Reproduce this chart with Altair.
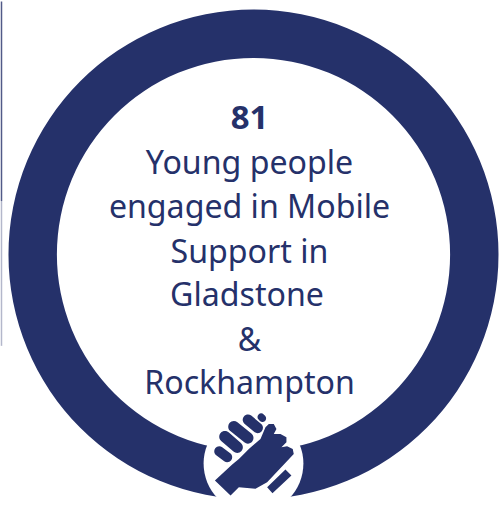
import altair as alt
import pandas as pd

NAVY = "#25316a"
WIDTH, HEIGHT = 502, 506

# Ring and the disc that interrupts it at the bottom
ring_x, ring_y = [253], [253.5]
disc_x, disc_y = [253], [463]

# Caption lines, top to bottom
line_text = ["Young people", "engaged in Mobile", "Support in",
             "Gladstone", "&", "Rockhampton"]
line_row = [173, 217, 262, 305, 350, 393]
line_col = [249, 249, 249, 246.5, 249, 249]
count_text = ["81"]
count_row, count_col = [128], [249]

# Thin rule along the left edge
edge_top, edge_bottom = [0], [345]

# Handshake glyph: outlines are in a 160-unit box centred on the icon
ICON_CX, ICON_CY = 80, 65
ICON_HALF = 80


def u(x, y):
    return f"{(x / 3 - ICON_CX) / ICON_HALF:.4f},{(y / 3 - ICON_CY) / ICON_HALF:.4f}"


def capsule(x1, y1, x2, y2, r):
    dx, dy = x2 - x1, y2 - y1
    n = (dx * dx + dy * dy) ** 0.5
    ox, oy = -dy / n * r, dx / n * r
    ru = r / 3 / ICON_HALF
    return (f"M{u(x1 + ox, y1 + oy)}L{u(x2 + ox, y2 + oy)}"
            f"A{ru:.4f},{ru:.4f} 0 0 0 {u(x2 - ox, y2 - oy)}"
            f"L{u(x1 - ox, y1 - oy)}"
            f"A{ru:.4f},{ru:.4f} 0 0 0 {u(x1 + ox, y1 + oy)}Z")


def polygon(points):
    return "M" + "L".join(u(x, y) for x, y in points) + "Z"


palm = [(133, 270), (185, 222), (205, 205), (235, 175), (270, 145), (285, 110),
        (295, 100), (310, 100), (318, 115), (310, 130), (330, 130), (348, 140),
        (348, 155), (333, 170), (350, 167), (367, 175), (370, 190), (290, 275),
        (255, 295), (205, 290), (180, 315)]
cuff = [(290, 290), (345, 237), (363, 255), (306, 308)]
hand_path = (
    polygon(palm) + polygon(cuff)
    + capsule(146, 182, 170, 200, 15)
    + capsule(163, 138, 200, 170, 17)
    + capsule(190, 108, 232, 142, 17)
    + capsule(232, 87, 262, 112, 16)
    + capsule(272, 79, 276, 83, 11)
)

x_scale = alt.Scale(domain=[0, WIDTH], range=[0, WIDTH], nice=False, zero=False)
y_scale = alt.Scale(domain=[0, HEIGHT], range=[0, HEIGHT], nice=False, zero=False)
X = alt.X("x:Q", scale=x_scale, axis=None)
Y = alt.Y("y:Q", scale=y_scale, axis=None)

ring = alt.Chart(pd.DataFrame({"x": ring_x, "y": ring_y})).mark_arc(
    radius=245.5, radius2=197, theta=0, theta2=6.28319, color=NAVY
).encode(x=X, y=Y)

disc = alt.Chart(pd.DataFrame({"x": disc_x, "y": disc_y})).mark_point(
    shape="circle", filled=True, opacity=1, color="white", size=10000, strokeWidth=0
).encode(x=X, y=Y)

hand = alt.Chart(pd.DataFrame({"x": [ICON_CX + 170], "y": [ICON_CY + 390]})).mark_point(
    shape=hand_path, filled=True, opacity=1, color=NAVY, size=(2 * ICON_HALF) ** 2, strokeWidth=0
).encode(x=X, y=Y)

caption = alt.Chart(pd.DataFrame({"label": line_text, "y": line_row, "x": line_col})).mark_text(
    font="Noto Sans", fontSize=32.2, color=NAVY, align="center", baseline="alphabetic"
).encode(x=X, y=Y, text="label:N")

count = alt.Chart(pd.DataFrame({"label": count_text, "y": count_row, "x": count_col})).mark_text(
    font="Noto Sans", fontSize=33, fontWeight="bold", color=NAVY, align="center", baseline="alphabetic"
).encode(x=X, y=Y, text="label:N")

# The rule fades out towards its lower end
edge_upper = alt.Chart(pd.DataFrame({"x": [0.5], "y": edge_top, "y2": [200]})).mark_rule(
    color=NAVY, strokeWidth=1.5, opacity=0.8
).encode(x=X, y=Y, y2="y2:Q")
edge_lower = alt.Chart(pd.DataFrame({"x": [0.5], "y": [200], "y2": edge_bottom})).mark_rule(
    color=NAVY, strokeWidth=1.5, opacity=0.35
).encode(x=X, y=Y, y2="y2:Q")

chart = alt.layer(edge_upper, edge_lower, ring, disc, hand, caption, count).properties(
    width=WIDTH, height=HEIGHT, padding=0, background="white",
).configure_view(stroke=None)

chart.save("out.html", embed_options={"renderer": "svg", "actions": False})
